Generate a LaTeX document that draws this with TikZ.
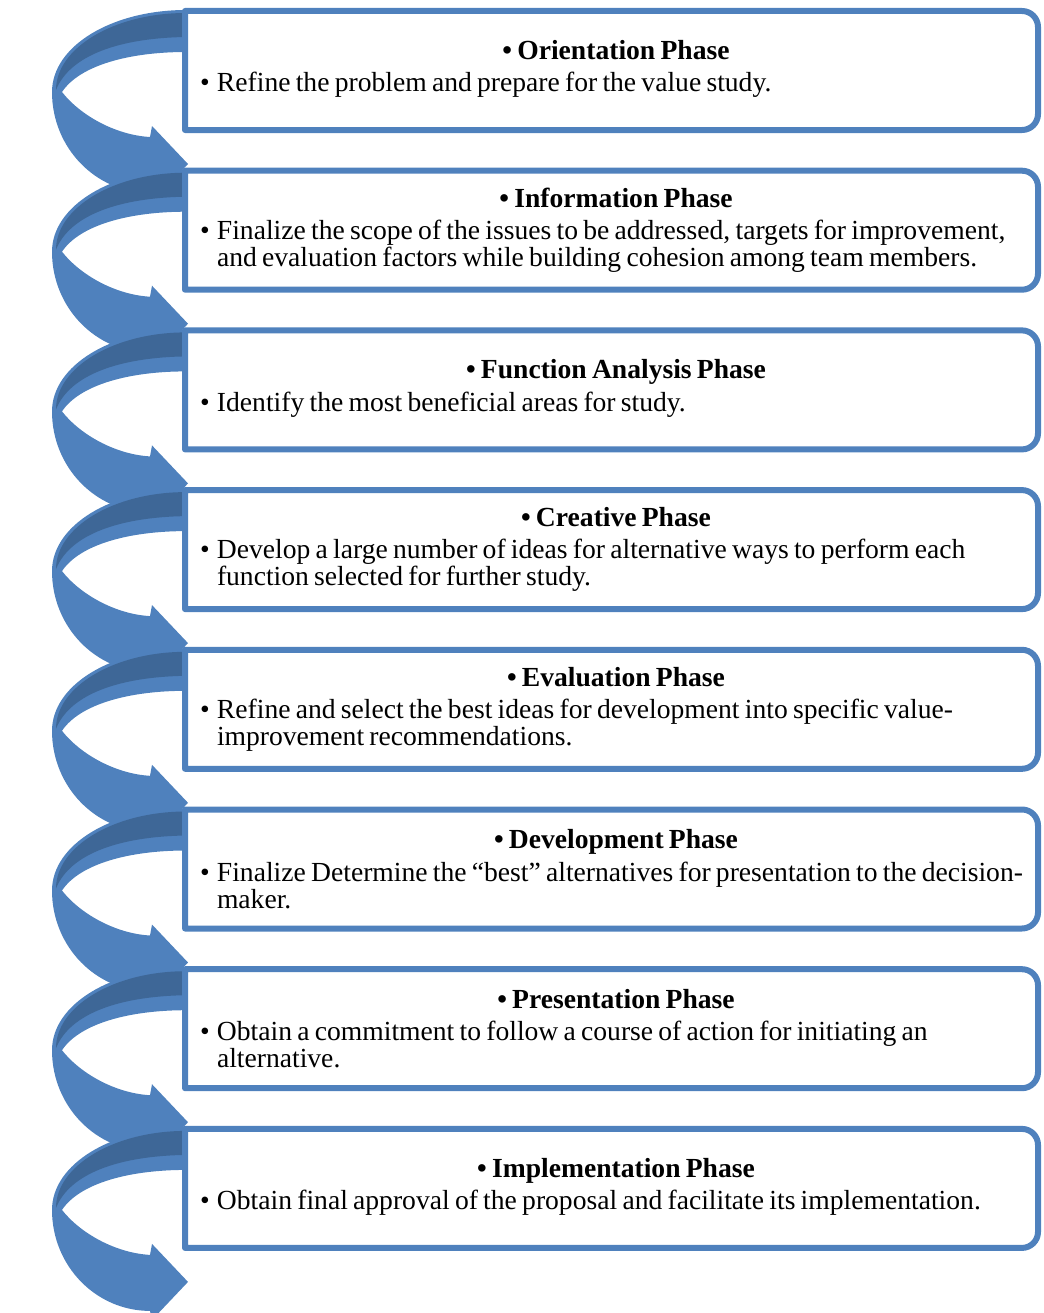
\documentclass[tikz,border=0pt]{standalone}
\usepackage{fontspec}
\setmainfont{Liberation Serif}
\definecolor{ribbon}{HTML}{4F81BD}
\definecolor{ribbondark}{HTML}{3E6797}
\definecolor{frame}{HTML}{4F81BD}

\tikzset{
  phasebox/.style={minimum width=639.75pt, minimum height=89.25pt, inner sep=0pt, outer sep=0pt},
  phasetext/.style={text width=624pt, inner sep=0pt, align=left,
    font=\fontsize{20.7pt}{20.3pt}\selectfont},
  frameline/.style={draw=frame, fill=white, line width=4.5pt, line join=round},
  ribbonlight/.style={fill=ribbon},
  ribbonshade/.style={fill=ribbondark},
}

% curved ribbon arrow; #1 = vertical offset of its upper edge (px)
\newcommand\curvedarrow[1]{%
  \begin{scope}[shift={(0,#1)}]
    \path[ribbonlight] (186,0) .. controls (112,0) and (52,36) .. (52,82)
      .. controls (52,138) and (96,183) .. (150,183)
      -- (152,192) -- (188,154) -- (152,116) -- (150,127)
      .. controls (115,125) and (80,105) .. (62,82)
      .. controls (80,55) and (130,42) .. (186,42) -- cycle;
    \path[ribbonshade] (186,3) .. controls (114,3) and (56,38) .. (56,80)
      .. controls (70,45) and (120,28) .. (186,27) -- cycle;
  \end{scope}}

% frame with square left corners and rounded right corners
\newcommand\phaseframe[1]{%
  \path[frameline] (#1.north west) -- ([xshift=-12pt]#1.north east)
    arc[start angle=90, end angle=0, radius=12pt]
    -- ([yshift=12pt]#1.south east)
    arc[start angle=0, end angle=-90, radius=12pt]
    -- (#1.south west) -- cycle;}

% bold centred heading, then a bulleted body with hanging indent
\newcommand\stagetext[2]{%
  \spaceskip=0.19em plus 0.05em minus 0.03em
  {\centering\bfseries \textbullet\ #1\par}\vspace{4pt}%
  \noindent\hbox to 12.75pt{\textbullet\hfil}%
  \parbox[t]{610pt}{\spaceskip=0.19em plus 0.05em minus 0.03em\raggedright #2}\par}

\begin{document}
\begin{tikzpicture}[x=0.75pt, y=-0.75pt]
  \useasboundingbox (0,0) rectangle (1043,1313);

  % ribbons, each one overlapping the head of the previous one
  \foreach \i in {0,...,7} {
    \pgfmathsetmacro{\top}{10+159.7*\i}
    \curvedarrow{\top}
  }

  % phase frames
  \foreach \i in {1,...,8} {
    \pgfmathsetmacro{\cy}{11+159.7*(\i-1)+59.5}
    \node[phasebox] (b\i) at (611.5,\cy) {};
    \phaseframe{b\i}
  }

  \node[phasetext] (t1) at ([yshift=1pt]b1.center -| 616,0)
    {\stagetext{Orientation Phase}{Refine the problem and prepare for the value study.}};
  \node[phasetext] (t2) at (b2.center -| 616,0)
    {\stagetext{Information Phase}{Finalize the scope of the issues to be addressed, targets for improvement,\\
      and evaluation factors while building cohesion among team members.}};
  \node[phasetext] (t3) at ([yshift=1pt]b3.center -| 616,0)
    {\stagetext{Function Analysis Phase}{Identify the most beneficial areas for study.}};
  \node[phasetext] (t4) at (b4.center -| 616,0)
    {\stagetext{Creative Phase}{Develop a large number of ideas for alternative ways to perform each\\
      function selected for further study.}};
  \node[phasetext] (t5) at (b5.center -| 616,0)
    {\stagetext{Evaluation Phase}{Refine and select the best ideas for development into specific value-\\
      improvement recommendations.}};
  \node[phasetext] (t6) at (b6.center -| 616,0)
    {\stagetext{Development Phase}{Finalize Determine the “best” alternatives for presentation to the decision-\\
      maker.}};
  \node[phasetext] (t7) at (b7.center -| 616,0)
    {\stagetext{Presentation Phase}{Obtain a commitment to follow a course of action for initiating an\\
      alternative.}};
  \node[phasetext] (t8) at ([yshift=1pt]b8.center -| 616,0)
    {\stagetext{Implementation Phase}{Obtain final approval of the proposal and facilitate its implementation.}};
\end{tikzpicture}
\end{document}
